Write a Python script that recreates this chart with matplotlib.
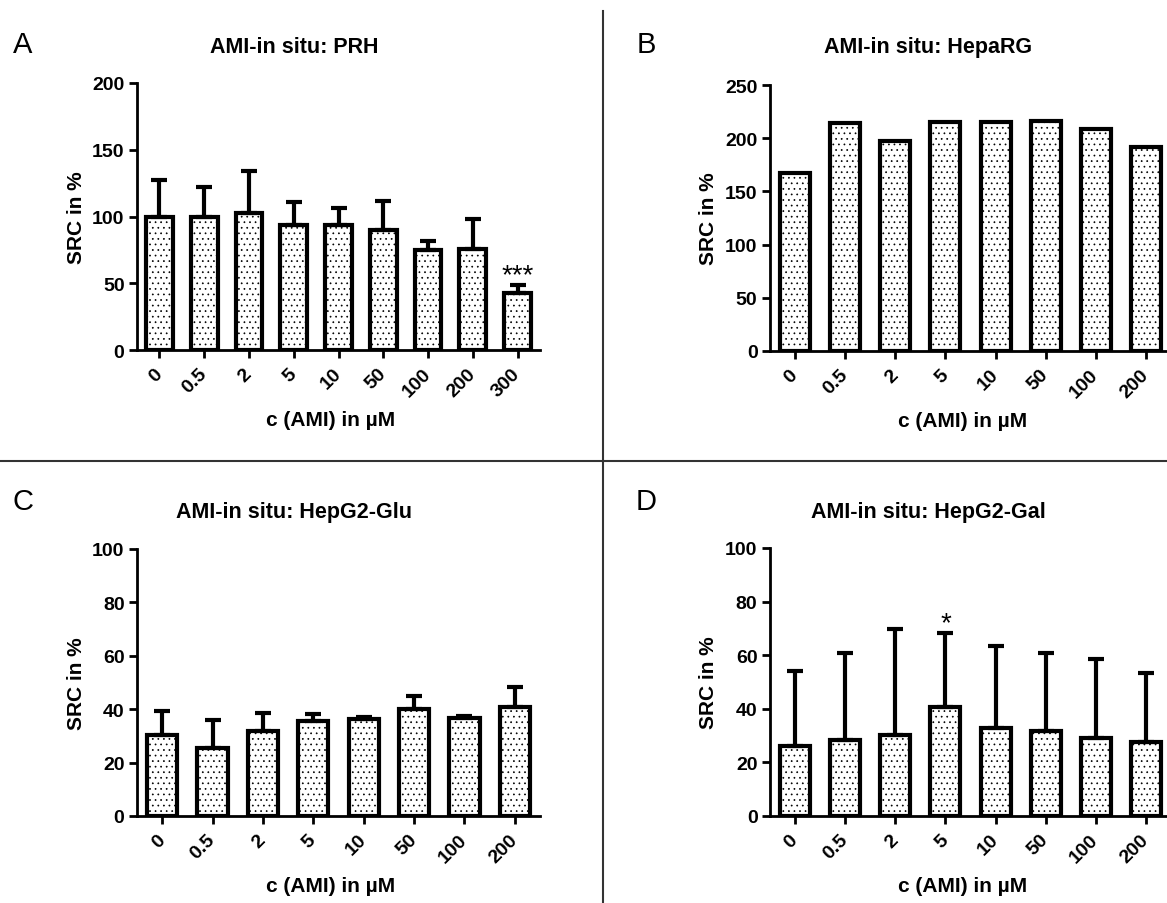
import matplotlib
matplotlib.use("Agg")
import matplotlib.pyplot as plt
import numpy as np

plt.rcParams['font.family'] = ['Liberation Sans', 'DejaVu Sans']
plt.rcParams['hatch.linewidth'] = 0.5

# Concentrations (µM)
conc_prh = ['0', '0.5', '2', '5', '10', '50', '100', '200', '300']
conc = ['0', '0.5', '2', '5', '10', '50', '100', '200']

# A: primary rat hepatocytes
prh_mean = [100, 100, 102.6, 93.5, 93.5, 90, 75, 76, 43]
prh_sd = [27.5, 22, 31.7, 17.5, 12.5, 21.5, 7, 22.5, 5.5]
prh_sig = ['', '', '', '', '', '', '', '', '***']

# B: HepaRG (single values)
heparg_mean = [167, 214, 197, 215.5, 215.5, 216.5, 209, 192]

# C: HepG2 in glucose medium
glu_mean = [30.4, 25.5, 31.9, 35.5, 36.2, 40.2, 36.6, 41]
glu_sd = [8.8, 10.5, 6.6, 2.7, 1.0, 4.8, 1.0, 7.5]

# D: HepG2 in galactose medium
gal_mean = [26, 28.4, 30.2, 40.7, 32.8, 31.7, 29.1, 27.6]
gal_sd = [28, 32.6, 39.6, 27.6, 30.6, 29.1, 29.5, 25.8]
gal_sig = ['', '', '', '*', '', '', '', '']

W, H = 1167, 904
fig = plt.figure(figsize=(W / 100, H / 100), dpi=100)


def px_axes(left, right, bottom, top):
    return fig.add_axes([left / W, (H - bottom) / H, (right - left) / W, (bottom - top) / H])


def panel(ax, labels, means, ymax, ystep, sd=None, sig=None):
    n = len(labels)
    x = np.arange(n)
    ax.bar(x, means, width=0.6, color='white', edgecolor='black',
           linewidth=3, hatch='...', zorder=2)
    if sd is not None:
        ax.errorbar(x, means, yerr=[np.zeros(n), sd], fmt='none', ecolor='black',
                    elinewidth=3, capsize=6, capthick=3, zorder=3)
    if sig is not None:
        for xi, m, s, t in zip(x, means, sd, sig):
            if t:
                ax.annotate(t, (xi, m + s), xytext=(0, 2), textcoords='offset points',
                            ha='center', va='baseline', fontsize=20)
    ax.set_xlim(-0.5, n - 0.5)
    ax.set_ylim(0, ymax)
    ax.set_yticks(np.arange(0, ymax + 1, ystep))
    ax.set_xticks(x)
    ax.set_xticklabels(labels, rotation=45, ha='right', va='center',
                       rotation_mode='anchor', fontsize=14, fontweight='bold')
    for lab in ax.get_yticklabels():
        lab.set_fontsize(14)
        lab.set_fontweight('bold')
    ax.tick_params(axis='both', direction='out', length=6, width=2, pad=3)
    ax.tick_params(axis='x', pad=9)
    for side in ('top', 'right'):
        ax.spines[side].set_visible(False)
    for side in ('left', 'bottom'):
        ax.spines[side].set_linewidth(2)
    ax.patch.set_alpha(0)
    ax.set_ylabel('SRC in %', fontsize=15, fontweight='bold', va='center')
    ax.set_xlabel('c (AMI) in µM', fontsize=15, fontweight='bold', va='center')


axA = px_axes(137, 540, 351, 84)
panel(axA, conc_prh, prh_mean, 200, 50, prh_sd, prh_sig)
axB = px_axes(770, 1171, 352, 86)
panel(axB, conc, heparg_mean, 250, 50)
axC = px_axes(137, 540, 817, 550)
panel(axC, conc, glu_mean, 100, 20, glu_sd)
axD = px_axes(770, 1171, 817, 549)
panel(axD, conc, gal_mean, 100, 20, gal_sd, gal_sig)

for ax in (axA, axC):
    ax.yaxis.set_label_coords(-61 / 403, 0.5)
    ax.xaxis.set_label_coords(0.48, -0.26)
for ax in (axB, axD):
    ax.yaxis.set_label_coords(-62 / 401, 0.5)
    ax.xaxis.set_label_coords(0.48, -0.26)

# Panel titles and letters
titles = ['AMI-in situ: PRH', 'AMI-in situ: HepaRG',
          'AMI-in situ: HepG2-Glu', 'AMI-in situ: HepG2-Gal']
letters = ['A', 'B', 'C', 'D']
title_pos = [(294, 53), (928, 53), (294, 518), (928, 518)]
letter_pos = [(13, 53), (637, 53), (13, 510), (636, 510)]
for t, (tx, ty) in zip(titles, title_pos):
    fig.text(tx / W, 1 - ty / H, t, ha='center', va='baseline',
             fontsize=15.5, fontweight='bold')
for l, (lx, ly) in zip(letters, letter_pos):
    fig.text(lx / W, 1 - ly / H, l, ha='left', va='baseline', fontsize=21)

# Divider lines between panels
fig.add_artist(plt.Line2D([602.5 / W, 602.5 / W], [0, 1 - 12 / H],
                          transform=fig.transFigure, color='#333333', lw=1.5))
fig.add_artist(plt.Line2D([0, 1], [1 - 462 / H, 1 - 462 / H],
                          transform=fig.transFigure, color='#333333', lw=1.5))

fig.savefig('out.png', dpi=100, facecolor='white')
